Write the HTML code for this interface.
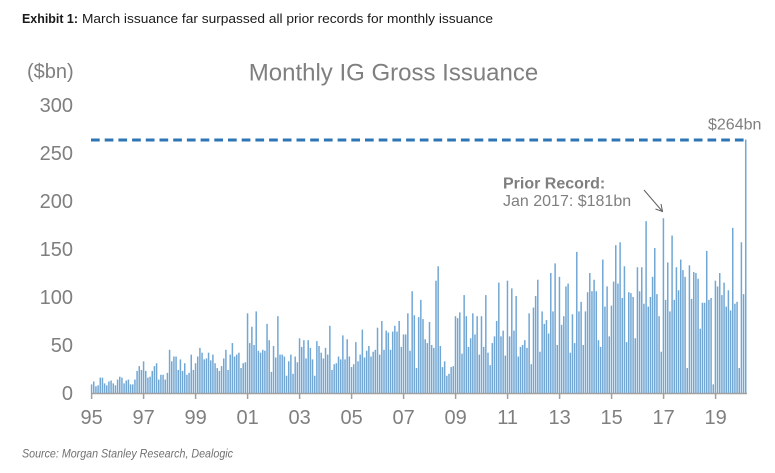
<!DOCTYPE html>
<html>
<head>
<meta charset="utf-8">
<style>
html,body{margin:0;padding:0;background:#fff;}
svg{display:block;}
text{font-family:"Liberation Sans",Arial,sans-serif;}
</style>
</head>
<body>
<svg width="775" height="473" viewBox="0 0 775 473" xmlns="http://www.w3.org/2000/svg">
<rect x="0" y="0" width="775" height="473" fill="#ffffff"/>
<text x="22" y="23" font-size="13" font-weight="bold" fill="#1a1a1a" textLength="56" lengthAdjust="spacingAndGlyphs">Exhibit 1:</text>
<text x="82" y="23" font-size="13" fill="#1a1a1a" textLength="411" lengthAdjust="spacingAndGlyphs">March issuance far surpassed all prior records for monthly issuance</text>

<text x="27" y="78" font-size="20" fill="#7f7f7f">($bn)</text>
<text x="393.5" y="80.5" font-size="24" fill="#7f7f7f" text-anchor="middle">Monthly IG Gross Issuance</text>

<g font-size="20" fill="#7f7f7f" text-anchor="end">
<text x="73" y="112">300</text>
<text x="73" y="160">250</text>
<text x="73" y="208">200</text>
<text x="73" y="256">150</text>
<text x="73" y="304">100</text>
<text x="73" y="352">50</text>
<text x="73" y="400">0</text>
</g>

<g id="bars" fill="#72a7d4"></g>

<line x1="91" y1="140" x2="744" y2="140" stroke="#2e75b6" stroke-width="3" stroke-dasharray="8.7 5"/>

<line x1="91" y1="393.5" x2="747" y2="393.5" stroke="#a0a0a0" stroke-width="1.5"/>
<g stroke="#a0a0a0" stroke-width="1.5">
<line x1="91.6" y1="393" x2="91.6" y2="399"/>
<line x1="143.6" y1="393" x2="143.6" y2="399"/>
<line x1="195.6" y1="393" x2="195.6" y2="399"/>
<line x1="247.6" y1="393" x2="247.6" y2="399"/>
<line x1="299.6" y1="393" x2="299.6" y2="399"/>
<line x1="351.6" y1="393" x2="351.6" y2="399"/>
<line x1="403.6" y1="393" x2="403.6" y2="399"/>
<line x1="455.6" y1="393" x2="455.6" y2="399"/>
<line x1="507.6" y1="393" x2="507.6" y2="399"/>
<line x1="559.6" y1="393" x2="559.6" y2="399"/>
<line x1="611.6" y1="393" x2="611.6" y2="399"/>
<line x1="663.6" y1="393" x2="663.6" y2="399"/>
<line x1="715.6" y1="393" x2="715.6" y2="399"/>
</g>
<g font-size="20" fill="#7f7f7f" text-anchor="middle">
<text x="91.6" y="424">95</text>
<text x="143.6" y="424">97</text>
<text x="195.6" y="424">99</text>
<text x="247.6" y="424">01</text>
<text x="299.6" y="424">03</text>
<text x="351.6" y="424">05</text>
<text x="403.6" y="424">07</text>
<text x="455.6" y="424">09</text>
<text x="507.6" y="424">11</text>
<text x="559.6" y="424">13</text>
<text x="611.6" y="424">15</text>
<text x="663.6" y="424">17</text>
<text x="715.6" y="424">19</text>
</g>

<text x="708" y="129.5" font-size="16" fill="#7f7f7f">$264bn</text>
<text x="503" y="188.5" font-size="16" font-weight="bold" fill="#7f7f7f">Prior Record:</text>
<text x="503" y="206" font-size="16" fill="#7f7f7f">Jan 2017: $181bn</text>
<line x1="644" y1="190" x2="662.5" y2="211.5" stroke="#606060" stroke-width="1"/>
<polyline points="655.5,209 662.5,211.5 661,204" fill="none" stroke="#606060" stroke-width="1"/>

<text x="22" y="457.5" font-size="12" font-style="italic" fill="#707070" textLength="211" lengthAdjust="spacingAndGlyphs">Source: Morgan Stanley Research, Dealogic</text>
</svg>
<script>
(function(){
var d=[9,12,7,8,16,16,10,8,12,13,10,8,
14,17,16,10,13,14,9,9,14,23,28,24,
33,23,16,17,23,28,31,14,19,19,14,21,
45,33,38,38,24,35,23,31,19,21,40,24,
31,38,47,42,35,36,42,34,40,31,26,23,
28,36,45,24,40,52,38,40,42,26,31,32,
83,52,
69,50,85,44,42,45,44,72,55,22,49,37,80,40,40,38,18,33,40,20,38,32,57,48,55,36,55,47,35,18,54,49,42,36,47,40,70,24,30,31,38,35,60,35,56,38,27,30,53,33,40,66,37,44,49,38,43,45,68,40,75,45,65,63,45,64,70,64,75,48,61,61,83,44,106,81,26,79,
97,77,56,52,74,50,47,117,132,49,27,33,18,20,27,28,80,78,84,41,102,80,48,57,83,61,80,40,80,48,102,42,29,52,59,75,115,59,65,39,117,59,109,65,101,38,48,50,55,47,83,30,89,101,118,43,85,72,76,62,125,85,135,50,121,71,80,111,114,42,82,52,147,85,
95,50,85,105,125,106,118,106,55,48,139,90,111,59,91,116,154,114,157,99,132,53,105,104,100,57,131,106,131,93,179,90,100,121,151,103,80,43,182,97,136,85,164,97,131,107,139,128,121,26,133,98,126,125,119,67,94,94,148,97,99,9,117,111,125,102,115,90,107,86,172,93,95,26,157,103,264];
var s='';
for(var i=0;i<d.length;i++){
var x=91.6+i*2.166-0.75;
var h=d[i]*0.96;
s+='<rect x="'+x.toFixed(2)+'" y="'+(393-h).toFixed(2)+'" width="1.5" height="'+h.toFixed(2)+'"/>';
}
document.getElementById('bars').innerHTML=s;
})();
</script>
</body>
</html>
